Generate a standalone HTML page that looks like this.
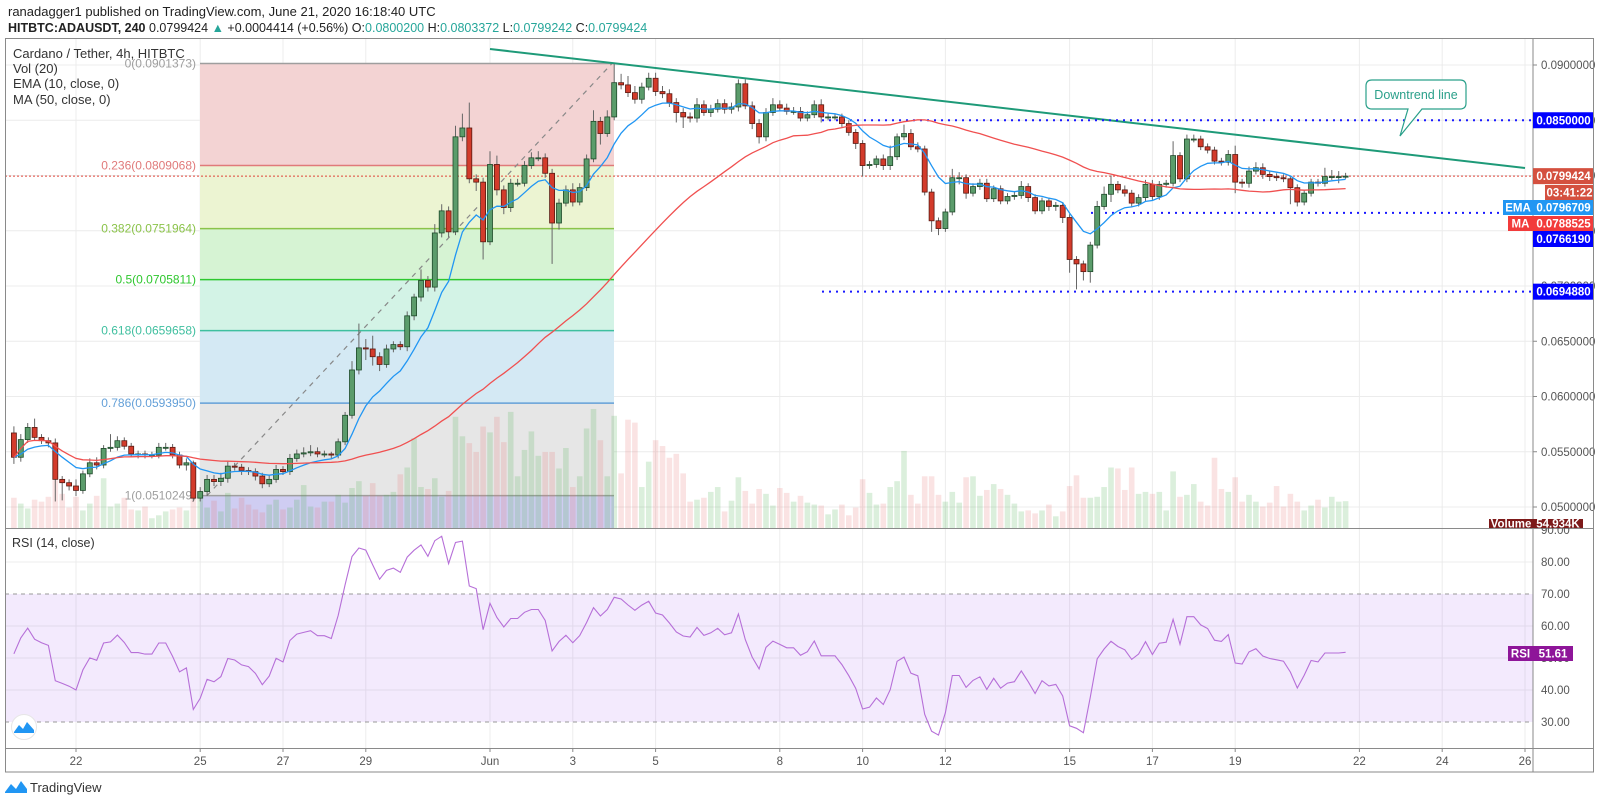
<!DOCTYPE html>
<html><head><meta charset="utf-8"><title>ADAUSDT 4h chart</title>
<style>
html,body{margin:0;padding:0;background:#fff;}
svg{display:block;font-family:"Liberation Sans",sans-serif;}
</style></head>
<body>
<svg id="chart" width="1600" height="805" viewBox="0 0 1600 805" xmlns="http://www.w3.org/2000/svg">
  <rect x="0" y="0" width="1600" height="805" fill="#fff"/>
  <text x="8" y="16" font-size="13" fill="#222">ranadagger1 published on TradingView.com, June 21, 2020 16:18:40 UTC</text>
  <text x="8" y="32" font-size="12.5" fill="#222"><tspan font-weight="bold">HITBTC:ADAUSDT, 240</tspan> 0.0799424 <tspan fill="#26a69a">▲</tspan> +0.0004414 (+0.56%) O:<tspan fill="#26a69a">0.0800200</tspan> H:<tspan fill="#26a69a">0.0803372</tspan> L:<tspan fill="#26a69a">0.0799242</tspan> C:<tspan fill="#26a69a">0.0799424</tspan></text>
  <g id="grid"></g>
  <g id="fib"></g>
  <g id="vol"></g>
  <g id="rsi"></g>
  <g id="lines"></g>
  <g id="candles"></g>
  <g id="mas"></g>
  <g id="axes"></g>
  <g font-size="13" fill="#333">
    <text x="13" y="58">Cardano / Tether, 4h, HITBTC</text>
    <text x="13" y="73">Vol (20)</text>
    <text x="13" y="88">EMA (10, close, 0)</text>
    <text x="13" y="104">MA (50, close, 0)</text>
    <text x="12" y="547" font-size="12.5">RSI (14, close)</text>
  </g>
  <g>
    <path d="M1372 80 H1460 Q1466 80 1466 86 V103 Q1466 109 1460 109 H1422 L1400 136 L1408 109 H1372 Q1366 109 1366 103 V86 Q1366 80 1372 80 Z" fill="#fff" stroke="#2aa08a" stroke-width="1.2"/>
    <text x="1416" y="99" font-size="12.5" fill="#2aa08a" text-anchor="middle">Downtrend line</text>
  </g>
  <g>
    <circle cx="24" cy="727" r="12.5" fill="#fff" stroke="#e6e6e6"/>
    <path d="M14 732 L19 725 L23 729 L27 722 L34 730 L34 733 L14 733 Z" fill="#2196f3"/>
  </g>
  <g>
    <path d="M5 792 L11 784 L16 789 L21 781 L27 789 L27 793 L5 793 Z" fill="#2196f3"/>
    <text x="30" y="792" font-size="13" fill="#333">TradingView</text>
  </g>
  <rect x="5.5" y="38.5" width="1588" height="733.5" fill="none" stroke="#8a8a8a"/>
</svg>
<script>
const closes = [
0.0545,0.0561,0.0572,0.0563,0.0560,0.0558,0.0525,0.0522,0.0519,0.0515,0.0530,0.0540,0.0538,0.0553,0.0554,0.0560,0.0555,0.0548,0.0548,0.0547,0.0547,0.0554,0.0554,0.0547,0.0538,0.0540,0.0508,0.0514,0.0525,0.0523,0.0526,0.0537,0.0536,0.0533,0.0532,0.0528,0.0521,0.0525,0.0534,0.0532,0.0544,0.0548,0.0549,0.0550,0.0548,0.0548,0.0547,0.0559,0.0583,0.0624,0.0644,0.0643,0.0636,0.0629,0.0643,0.0647,0.0645,
0.0673,0.0690,0.0705,0.0699,0.0748,0.0768,0.0749,0.0835,0.0843,0.0797,0.0794,0.0740,0.0810,0.0787,0.0771,0.0793,0.0793,0.0809,0.0816,0.0816,0.0802,0.0757,0.0775,0.0787,0.0776,0.0789,0.0815,0.0849,0.0838,0.0853,0.0884,0.0882,0.0875,0.0869,0.0880,0.0888,0.0876,0.0874,0.0866,0.0857,0.0853,0.0852,0.0864,0.0857,0.0860,0.0865,0.0860,0.0862,0.0883,0.0863,0.0847,0.0835,0.0857,0.0864,0.0861,0.0858,0.0858,0.0852,
0.0855,0.0864,0.0853,0.0853,0.0853,0.0847,0.0839,0.0829,0.0809,0.0810,0.0815,0.0809,0.0817,0.0835,0.0838,0.0826,0.0824,0.0785,0.0759,0.0752,0.0767,0.0798,0.0798,0.0784,0.0790,0.0793,0.0779,0.0788,0.0777,0.0781,0.0782,0.0790,0.0780,0.0768,0.0777,0.0772,0.0773,0.0762,0.0724,0.0720,0.0713,0.0737,0.0772,0.0783,0.0792,0.0787,0.0784,0.0775,0.0780,0.0792,0.0781,0.0792,0.0793,0.0818,0.0797,0.0833,0.0833,0.0826,
0.0823,0.0813,0.0812,0.0819,0.0794,0.0793,0.0804,0.0807,0.0801,0.0799,0.0798,0.0797,0.0789,0.0776,0.0784,0.0794,0.0793,0.0799,0.0799,0.0799,0.07994];
const firstOpen = 0.0567;
const wickUp = [6,5,4,8,3,3,4,3,3,6,3,4,5,3,12,4,3,3,3,3,3,4,4,3,3,4,2,4,4,4,5,4,3,3,3,3,3,4,4,3,4,4,5,6,4,3,2,3,3,8,22,8,12,4,4,3,3,
4,3,10,4,8,6,4,10,13,23,4,4,12,8,4,4,4,4,5,6,4,4,4,4,6,4,4,10,4,6,17,8,8,6,4,5,5,5,4,4,4,4,6,4,4,4,4,4,4,4,4,4,4,6,4,4,4,4,
3,4,5,3,3,3,3,3,3,3,3,4,10,3,8,4,4,3,3,3,3,8,5,3,3,4,4,3,3,3,4,5,3,3,3,3,3,3,3,3,3,3,5,7,8,3,4,3,3,4,4,3,3,13,3,4,4,3,
3,3,3,4,8,3,4,5,4,3,3,3,3,3,3,3,3,8,6,5,3];
const wickDn = [6,4,3,3,3,4,20,16,4,5,3,3,4,3,3,3,3,3,4,3,3,3,3,3,3,5,3,3,4,4,4,4,3,4,3,4,4,3,3,3,3,3,3,3,3,3,3,3,3,3,4,10,8,6,3,3,3,
4,4,4,4,4,4,5,3,4,4,8,16,3,5,6,4,3,3,3,3,4,37,6,3,4,3,3,3,10,3,3,4,4,4,4,3,4,4,4,9,10,4,4,3,4,3,4,4,4,3,5,6,4,3,3,3,3,3,
3,3,5,3,3,3,3,5,10,3,3,4,4,3,3,3,3,3,10,6,3,3,6,5,3,3,3,3,3,3,3,3,4,3,3,4,4,5,12,23,8,10,3,3,7,3,3,3,3,3,3,3,3,3,3,3,3,3,
3,3,3,3,10,4,4,3,4,4,3,3,15,4,3,3,3,3,3,6,2];
const volumesK = [62,50,40,58,54,64,98,70,42,64,36,50,66,102,44,50,62,38,36,44,20,26,34,38,42,36,72,60,42,56,34,72,40,62,48,38,32,48,58,38,42,58,88,44,42,54,54,68,52,82,96,66,92,66,68,74,110,
124,184,84,80,102,64,76,228,188,174,156,208,196,228,176,238,106,160,198,148,156,156,122,164,84,106,204,244,180,106,230,112,222,216,84,136,180,168,144,152,112,54,58,62,74,84,34,56,104,76,50,80,70,46,82,72,54,66,
52,48,46,28,38,48,26,42,100,72,48,50,84,96,158,68,50,106,106,68,54,74,52,104,106,66,78,90,80,68,50,34,36,30,36,48,24,34,86,108,62,62,64,84,124,122,78,124,70,74,70,74,36,116,64,68,90,54,
46,144,80,74,104,54,68,54,44,52,86,44,70,54,36,46,58,42,64,54,55];
const dateLabels = ['22','25','27','29','Jun','3','5','8','10','12','15','17','19','22','24','26'];
const dateDays = [0,3,5,7,10,12,14,17,19,21,24,26,28,31,33,35];
const priceTicks = [0.05,0.055,0.06,0.065,0.07,0.075,0.08,0.085,0.09];
const rsiTicks = [30,40,50,60,70,80,90];
const fibRatios = [0,0.236,0.382,0.5,0.618,0.786,1];
const fibHigh = 0.0901373, fibLow = 0.0510249;
const hLevels = [0.085,0.076619,0.069488];
const lastPrice = 0.0799424;

const NS='http://www.w3.org/2000/svg';
const L=5,R=1533,T=38,MB=528,RB=748;
const startDay=-1.5;
const xd=d=>76+41.4*d;
const xi=i=>xd(startDay+i/6);
const yp=p=>507-(p-0.05)*11050;
const yr=r=>530+(90-r)*3.2;
function mk(tag,attrs,parent){const e=document.createElementNS(NS,tag);for(const k in attrs)e.setAttribute(k,attrs[k]);parent.appendChild(e);return e;}
const G=id=>document.getElementById(id);

// grid
const grid=G('grid');
priceTicks.forEach(p=>{const l=mk('line',{x1:L,x2:R,y1:yp(p),y2:yp(p),stroke:'#ececec'},grid);

});
[80,60,50,40].forEach(r=>{const l=mk('line',{x1:L,x2:R,y1:yr(r),y2:yr(r),stroke:'#ececec'},grid);

});
dateDays.forEach(d=>{const l=mk('line',{x1:xd(d),x2:xd(d),y1:T,y2:RB,stroke:'#ececec'},grid);

});

// fib
const fib=G('fib');
const fx1=200,fx2=614;
const fibFill=['#f3d3d3','#ecf4d2','#d6f3d3','#d3f3e6','#d4e9f4','#e6e6e6'];
const fibStroke=['#9e9e9e','#e07a7a','#8bc34a','#2ec72e','#3fbf9f','#64a0d8','#9e9e9e'];
const fibY=fibRatios.map(r=>yp(fibHigh-(fibHigh-fibLow)*r));
for(let k=0;k<6;k++){const r=mk('rect',{x:fx1,y:fibY[k],width:fx2-fx1,height:fibY[k+1]-fibY[k],fill:fibFill[k]},fib);

}
const bz=mk('rect',{x:fx1,y:fibY[6],width:fx2-fx1,height:MB-fibY[6],fill:'#cfcdf2'},fib);


fibRatios.forEach((r,k)=>{const l=mk('line',{x1:fx1,x2:fx2,y1:fibY[k],y2:fibY[k],stroke:fibStroke[k],'stroke-width':1.5},fib);


const t=mk('text',{x:fx1-4,y:fibY[k]+4,'font-size':12,'text-anchor':'end',fill:fibStroke[k]},fib);


const v=fibHigh-(fibHigh-fibLow)*r;
t.textContent=String(r)+'('+v.toFixed(7)+')';});
const dl=mk('line',{x1:207,y1:fibY[6],x2:612,y2:fibY[0],stroke:'#888','stroke-dasharray':'5,5','stroke-width':1.2},fib);



// volumes
const vol=G('vol');
const opens=closes.map((c,i)=>i===0?firstOpen:closes[i-1]);
volumesK.forEach((v,i)=>{const up=closes[i]>=opens[i];const h=v/2.05;
const r=mk('rect',{x:xi(i)-2.8,y:MB-h,width:5.6,height:h,fill:up?'rgba(76,175,80,0.2)':'rgba(229,115,115,0.2)'},vol);

});

// RSI
const rsiG=G('rsi');
const band=mk('rect',{x:L,y:yr(70),width:R-L,height:yr(30)-yr(70),fill:'rgba(155,80,235,0.12)'},rsiG);


[70,30].forEach(r=>{const l=mk('line',{x1:L,x2:R,y1:yr(r),y2:yr(r),stroke:'#999','stroke-dasharray':'4,4'},rsiG);

});
const rsiVals=[];let ag=0.0006,al=0.0004;
closes.forEach((c,i)=>{const p=i===0?firstOpen:closes[i-1];const ch=c-p;const g=Math.max(ch,0),lo=Math.max(-ch,0);
ag=(ag*13+g)/14;al=(al*13+lo)/14;rsiVals.push(al===0?100:100-100/(1+ag/al));});
const rp=mk('polyline',{points:rsiVals.map((r,i)=>xi(i).toFixed(1)+','+yr(Math.max(22,Math.min(r,94))).toFixed(1)).join(' '),fill:'none',stroke:'#b66fd8','stroke-width':1.1},rsiG);



// drawings
const lines=G('lines');
const tl=mk('line',{x1:490,y1:49,x2:1525,y2:168,stroke:'#1e9a78','stroke-width':2},lines);


const hx=[822,1091,822];
hLevels.forEach((p,k)=>{const l=mk('line',{x1:hx[k],x2:R,y1:yp(p),y2:yp(p),stroke:'#1a1aff','stroke-width':2,'stroke-dasharray':'2,5'},lines);

});
const pl=mk('line',{x1:L,x2:R,y1:yp(lastPrice),y2:yp(lastPrice),stroke:'#e0453a','stroke-dasharray':'2,2'},lines);



// candles
const cg=G('candles');
closes.forEach((c,i)=>{const o=opens[i];const up=c>=o;const x=xi(i);
const hi=Math.max(o,c)+wickUp[i]*0.0001, lo=Math.min(o,c)-wickDn[i]*0.0001;
const w=mk('line',{x1:x,x2:x,y1:yp(hi),y2:yp(lo),stroke:'#666'},cg);


const yt=yp(Math.max(o,c)),yb=yp(Math.min(o,c));
const b=mk('rect',{x:x-2.5,y:yt,width:5,height:Math.max(yb-yt,1),fill:up?'#5b9c6b':'#d33b2b',stroke:up?'#1f4a2a':'#5a1a12','stroke-width':0.8},cg);

});

// EMA & MA
const mas=G('mas');
const ema=[];closes.forEach((c,i)=>{ema.push(i===0?c:ema[i-1]+(c-ema[i-1])*2/11);});
const ma=closes.map((c,i)=>{const s=closes.slice(Math.max(0,i-49),i+1);return s.reduce((a,b)=>a+b,0)/s.length;});
const ep=mk('polyline',{points:ema.map((v,i)=>xi(i).toFixed(1)+','+yp(v).toFixed(1)).join(' '),fill:'none',stroke:'#2196f3','stroke-width':1.3},mas);


const mp=mk('polyline',{points:ma.map((v,i)=>xi(i).toFixed(1)+','+yp(v).toFixed(1)).join(' '),fill:'none',stroke:'#f05050','stroke-width':1.3},mas);



// axes
const ax=G('axes');
[[L,MB,1594,MB],[L,RB,1594,RB],[R,T,R,772]].forEach(a=>{const l=mk('line',{x1:a[0],y1:a[1]+0.5,x2:a[2],y2:a[3]+0.5,stroke:'#8a8a8a'},ax);

});
const fw=mk('rect',{x:R+0.5,y:T+1,width:60,height:489,fill:'#fff'},ax);


priceTicks.forEach(p=>{const y=yp(p);const t=mk('text',{x:R+8,y:y+4,'font-size':11.5,fill:'#555'},ax);


t.textContent=p.toFixed(7);
const tk=mk('line',{x1:R,x2:R+4,y1:y,y2:y,stroke:'#888'},ax);

});
rsiTicks.forEach(r=>{const y=yr(r);const t=mk('text',{x:R+8,y:y+4,'font-size':11.5,fill:'#555'},ax);


t.textContent=r.toFixed(2);});
dateDays.forEach((d,k)=>{const x=xd(d);const t=mk('text',{x:x,y:765,'font-size':11.5,fill:'#555','text-anchor':'middle'},ax);


t.textContent=dateLabels[k];
const tk=mk('line',{x1:x,x2:x,y1:RB,y2:RB+4,stroke:'#888'},ax);

});
function tag(name,x,y,w,h,bg,txt,col){const g=mk('g',{},ax);


mk('rect',{x:x,y:y,width:w,height:h,fill:bg},g);
const t=mk('text',{x:x+w/2,y:y+h/2+4,'font-size':11.5,'font-weight':'bold',fill:col||'#fff','text-anchor':'middle'},g);t.textContent=txt;}
tag('level-label-0085',R,yp(0.085)-8,61,16,'#0000ff','0.0850000');
tag('last-price-label',R,yp(lastPrice)-8,61,16,'#d4503f','0.0799424');
tag('countdown-label',R+12,185,49,15,'#d4503f','03:41:22');
tag('ema-name-label',1503,200,30,15,'#2196f3','EMA');
tag('ema-value-label',R,200,61,15,'#2196f3','0.0796709');
tag('ma-name-label',1508,216,25,15,'#f23b3b','MA');
tag('ma-value-label',R,216,61,15,'#f23b3b','0.0788525');
tag('level-label-0076',R,231,61,16,'#0000ff','0.0766190');
tag('level-label-0069',R,yp(0.069488)-8,61,16,'#0000ff','0.0694880');
tag('volume-name-label',1489,519,44,9,'#7d1a1a','Volume');
tag('volume-value-label',R,519,50,9,'#7d1a1a','54.934K');
tag('rsi-name-label',1508,646,25,15,'#8e1599','RSI');
tag('rsi-value-label',R,646,40,15,'#8e1599','51.61');
</script>
</body></html>
